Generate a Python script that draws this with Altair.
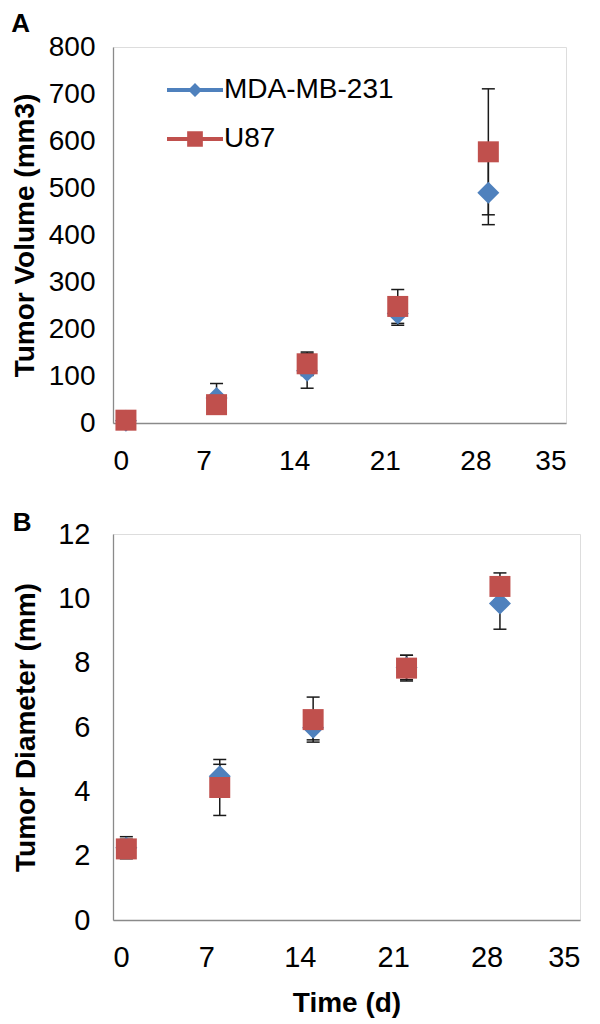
import altair as alt
import pandas as pd

# ---------------- data ----------------
days = [1, 8, 15, 22, 29]
series_names = ["MDA-MB-231", "U87"]
series_colors = ["#4F81BD", "#C0504D"]

vol_mda = [5, 53, 111, 233, 490]
vol_mda_err = [3, 31, 37, 25, 68]
vol_u87 = [6, 39, 126, 248, 577]
vol_u87_err = [3, 10, 25, 36, 134]

dia_mda = [2.25, 4.47, 5.98, 7.85, 9.84]
dia_mda_err = [0.34, 0.37, 0.38, 0.38, 0.80]
dia_u87 = [2.21, 4.12, 6.23, 7.83, 10.37]
dia_u87_err = [0.30, 0.87, 0.70, 0.40, 0.42]

x_ticks = [0, 7, 14, 21, 28, 35]
vol_ticks = [0, 100, 200, 300, 400, 500, 600, 700, 800]
dia_ticks = [0, 2, 4, 6, 8, 10, 12]

FONT = "Liberation Sans"
AXIS_GRAY = "#8a8a8a"
ERR_COLOR = "#1a1a1a"

# legend glyphs: a short line with the marker on it (unit coordinates)
LEG_DIAMOND = ("M-1,-0.075L1,-0.075L1,0.075L-1,0.075Z "
               "M0,-0.25L0.25,0L0,0.25L-0.25,0Z")
LEG_SQUARE = ("M-1,-0.075L1,-0.075L1,0.075L-1,0.075Z "
              "M-0.28,-0.28L0.28,-0.28L0.28,0.28L-0.28,0.28Z")


def make_df(mda, mda_err, u87, u87_err):
    rows = []
    for name, vals, errs in [(series_names[0], mda, mda_err),
                             (series_names[1], u87, u87_err)]:
        for d, v, e in zip(days, vals, errs):
            rows.append({"day": d, "series": name, "value": v,
                         "lo": v - e, "hi": v + e})
    return pd.DataFrame(rows)


def panel(df, letter, ytitle, yticks, ymax, w, h, xtitle, label_pad,
          title_pad, fs, xlabel_pad, title_offset, legend):
    x_axis = alt.Axis(values=x_ticks, title=xtitle, grid=False, ticks=False,
                      tickSize=0, domainColor=AXIS_GRAY, domainWidth=1.3,
                      labelFont=FONT, labelFontSize=fs, labelColor="black",
                      labelPadding=xlabel_pad, titleFont=FONT,
                      titleFontSize=28, titleFontWeight="bold",
                      titleColor="black", titlePadding=17)
    y_axis = alt.Axis(values=yticks, title=ytitle, grid=False, ticks=False,
                      tickSize=0, domainColor=AXIS_GRAY, domainWidth=1.3,
                      labelFont=FONT, labelFontSize=fs, labelColor="black",
                      labelPadding=label_pad, titleFont=FONT,
                      titleFontSize=28, titleFontWeight="bold",
                      titleColor="black", titlePadding=title_pad)
    xs = alt.Scale(domain=[0, 35], nice=False, zero=False)
    ys = alt.Scale(domain=[0, ymax], nice=False)
    X = alt.X("day:Q", scale=xs, axis=x_axis)

    base = alt.Chart(df)
    err = base.mark_rule(color=ERR_COLOR, strokeWidth=1.5, opacity=1).encode(
        x=X, y=alt.Y("lo:Q", scale=ys, axis=y_axis), y2="hi:Q")
    cap_lo = base.mark_tick(color=ERR_COLOR, orient="horizontal", size=13,
                            thickness=1.5, opacity=1).encode(
        x=X, y=alt.Y("lo:Q", scale=ys, axis=y_axis))
    cap_hi = base.mark_tick(color=ERR_COLOR, orient="horizontal", size=13,
                            thickness=1.5, opacity=1).encode(
        x=X, y=alt.Y("hi:Q", scale=ys, axis=y_axis))
    pts_mda = base.transform_filter(
        alt.datum.series == series_names[0]).mark_point(
        shape="diamond", filled=True, size=484, opacity=1,
        color=series_colors[0]).encode(
        x=X, y=alt.Y("value:Q", scale=ys, axis=y_axis))
    pts_u87 = base.transform_filter(
        alt.datum.series == series_names[1]).mark_point(
        shape="square", filled=True, size=441, opacity=1,
        color=series_colors[1]).encode(
        x=X, y=alt.Y("value:Q", scale=ys, axis=y_axis))
    layers = [err, cap_lo, cap_hi, pts_mda, pts_u87]
    if legend:
        leg = alt.Legend(title=None, orient="none", legendX=54, legendY=15,
                         symbolSize=3136, symbolStrokeWidth=0,
                         symbolOpacity=1, labelFont=FONT, labelFontSize=28,
                         labelColor="black", labelOffset=1, labelLimit=0,
                         rowPadding=7, padding=0)
        cscale = alt.Scale(domain=series_names, range=series_colors)
        leg_layer = base.transform_filter("datum.day < 0").mark_point(
            filled=True, opacity=1).encode(
            x=X, y=alt.Y("value:Q", scale=ys, axis=y_axis),
            color=alt.Color("series:N", scale=cscale, legend=leg),
            shape=alt.Shape("series:N",
                            scale=alt.Scale(domain=series_names,
                                            range=[LEG_DIAMOND, LEG_SQUARE]),
                            legend=leg))
        layers.append(leg_layer)
    return alt.layer(*layers).properties(
        width=w, height=h,
        title=alt.TitleParams(text=letter, anchor="start", frame="bounds",
                              font=FONT, fontSize=26, fontWeight="bold",
                              color="black", offset=title_offset))


df_vol = make_df(vol_mda, vol_mda_err, vol_u87, vol_u87_err)
df_dia = make_df(dia_mda, dia_mda_err, dia_u87, dia_u87_err)

chart_a = panel(df_vol, "A", "Tumor Volume (mm3)", vol_ticks, 800, 453, 376,
                "", 18, 9, 28, 24, -4, True)
chart_b = panel(df_dia, "B", "Tumor Diameter (mm)", dia_ticks, 12, 467, 386,
                "Time (d)", 23, 17, 29, 23, -16, False)

chart = alt.vconcat(chart_a, chart_b, spacing=33).resolve_scale(
    color="independent", shape="independent").resolve_legend(
    color="independent", shape="independent").properties(
    padding={"left": 2, "top": 2, "right": 0, "bottom": 0}
).configure_view(stroke=None).configure(background="white")

chart.save("out.html", embed_options={"renderer": "svg", "actions": False})
